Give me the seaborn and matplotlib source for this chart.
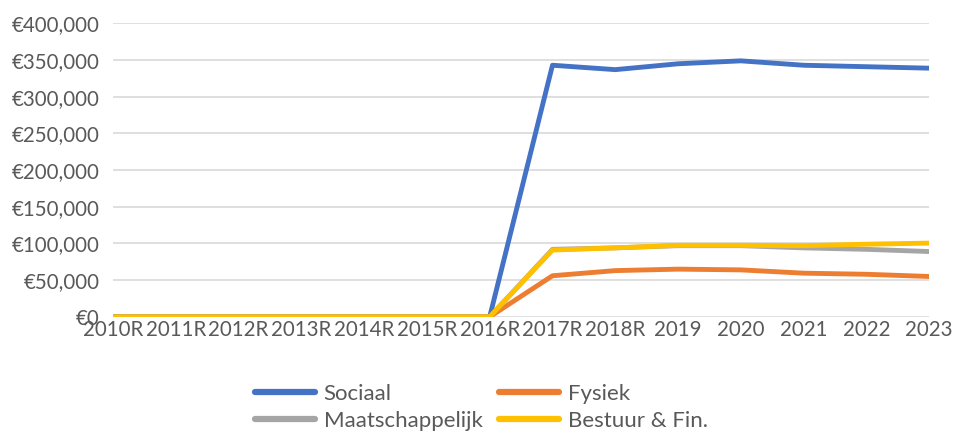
import pandas as pd
import matplotlib.pyplot as plt
import seaborn as sns
from matplotlib.ticker import FuncFormatter

YEARS = ['2010R', '2011R', '2012R', '2013R', '2014R', '2015R', '2016R',
         '2017R', '2018R', '2019', '2020', '2021', '2022', '2023']
SOCIAAL = [0, 0, 0, 0, 0, 0, 0, 343000, 337000, 345000, 349000, 343000, 341000, 339000]
FYSIEK = [0, 0, 0, 0, 0, 0, 0, 56000, 63000, 65000, 64000, 59500, 58000, 55000]
MAATSCHAPPELIJK = [0, 0, 0, 0, 0, 0, 0, 92000, 94000, 97000, 97000, 94000, 92000, 89000]
BESTUUR = [0, 0, 0, 0, 0, 0, 0, 91000, 94000, 97500, 97500, 97000, 99000, 100500]

SERIES = {
    'Sociaal': SOCIAAL,
    'Fysiek': FYSIEK,
    'Maatschappelijk': MAATSCHAPPELIJK,
    'Bestuur & Fin.': BESTUUR,
}
COLORS = {'Sociaal': '#4472C4', 'Fysiek': '#ED7D31',
          'Maatschappelijk': '#A5A5A5', 'Bestuur & Fin.': '#FFC000'}


def build_frame() -> pd.DataFrame:
    rows = []
    for name, values in SERIES.items():
        for i, v in enumerate(values):
            rows.append({'pos': i, 'year': YEARS[i], 'series': name, 'value': v})
    return pd.DataFrame(rows)


def main():
    sns.set_style('white')
    plt.rcParams['font.family'] = ['Lato', 'DejaVu Sans']
    df = build_frame()

    fig = plt.figure(figsize=(9.57, 4.34), dpi=100)
    ax = fig.add_axes([0.118, 0.270, 0.853, 0.676])

    sns.lineplot(data=df, x='pos', y='value', hue='series', palette=COLORS,
                 hue_order=list(SERIES.keys()), linewidth=3.5, ax=ax,
                 legend=False, zorder=3)

    ax.set_xlim(0, len(YEARS) - 1)
    ax.set_ylim(0, 400000)
    ax.set_yticks(range(0, 400001, 50000))
    ax.yaxis.set_major_formatter(FuncFormatter(lambda v, _: f'€{int(v):,}'))
    ax.set_xticks(range(len(YEARS)))
    ax.set_xticklabels(YEARS)
    ax.tick_params(axis='both', length=0, labelsize=14.8, colors='#595959')
    ax.tick_params(axis='x', pad=2)
    ax.tick_params(axis='y', pad=9.5)
    ax.grid(axis='y', color='#D9D9D9', linewidth=1.2, zorder=0)
    ax.set_xlabel('')
    ax.set_ylabel('')
    for s in ax.spines.values():
        s.set_visible(False)

    lines = {name: plt.Line2D([], [], color=COLORS[name], linewidth=4.5) for name in SERIES}
    order = ['Sociaal', 'Maatschappelijk', 'Fysiek', 'Bestuur & Fin.']
    leg = fig.legend([lines[n] for n in order], order, loc='center',
                     bbox_to_anchor=(0.503, 0.061), ncol=2, frameon=False,
                     fontsize=16, handlelength=2.7, handletextpad=0.4,
                     columnspacing=0.75, labelspacing=0.32)
    for t in leg.get_texts():
        t.set_color('#595959')

    fig.savefig('out.png', dpi=100)
    plt.close(fig)


if __name__ == '__main__':
    main()
